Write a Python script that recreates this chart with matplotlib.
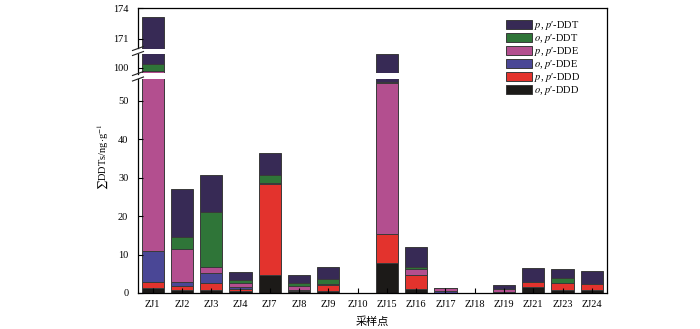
import numpy as np
import matplotlib.pyplot as plt
from matplotlib.lines import Line2D
from matplotlib.patches import Patch

plt.rcParams['font.family'] = ['Liberation Serif', 'Noto Sans CJK SC']
plt.rcParams['mathtext.fontset'] = 'stix'

sites = ["ZJ1", "ZJ2", "ZJ3", "ZJ4", "ZJ7", "ZJ8", "ZJ9", "ZJ10",
         "ZJ15", "ZJ16", "ZJ17", "ZJ18", "ZJ19", "ZJ21", "ZJ23", "ZJ24"]

# ng/g for each compound, bottom to top of the stack
op_ddd = [1.4, 0.8, 0.9, 0.5, 4.7, 0.5, 0.6, 0, 7.7, 1.0, 0, 0, 0, 1.6, 0.8, 0.8]
pp_ddd = [1.5, 1.0, 1.6, 0.5, 23.5, 0.1, 1.5, 0, 7.5, 3.6, 0.05, 0, 0.05, 1.3, 1.7, 1.5]
op_dde = [7.9, 1.1, 2.6, 0.5, 0.1, 0.2, 0.1, 0, 0.1, 0.1, 0.45, 0, 0.3, 0, 0, 0]
pp_dde = [88.96, 8.5, 1.6, 1.2, 0.2, 1.0, 0.1, 0, 39.3, 1.5, 0.7, 0, 0.65, 0, 0, 0]
op_ddt = [0.6, 3.1, 14.3, 0.7, 2.1, 0.8, 1.3, 0, 0.3, 0.5, 0, 0, 0.05, 0, 1.5, 0]
pp_ddt = [72.81, 12.5, 9.6, 2.0, 5.8, 2.0, 3.1, 0, 46.35, 5.3, 0.05, 0, 1.05, 3.5, 2.2, 3.3]

series = [
    (op_ddd, "#1c1a18", "$o$, $p$′-DDD"),
    (pp_ddd, "#e3332d", "$p$, $p$′-DDD"),
    (op_dde, "#4a4796", "$o$, $p$′-DDE"),
    (pp_dde, "#b34f8f", "$p$, $p$′-DDE"),
    (op_ddt, "#2f7538", "$o$, $p$′-DDT"),
    (pp_ddt, "#372a55", "$p$, $p$′-DDT"),
]

W, H = 700, 329
fig = plt.figure(figsize=(W / 100, H / 100), dpi=100)


def fx(px):
    return px / W


def fy(py):
    return 1 - py / H


def panel(y_top, y_bot):
    return fig.add_axes([fx(138), fy(y_bot), fx(607) - fx(138), (y_bot - y_top) / H])


# continuous right border
ax_bg = panel(8.3, 293)
ax_bg.set_xticks([])
ax_bg.set_yticks([])
ax_bg.patch.set_visible(False)
for s in ["left", "top", "bottom"]:
    ax_bg.spines[s].set_visible(False)
ax_bg.spines["right"].set_linewidth(0.9)

ax_top = panel(8.3, 48.5)
ax_mid = panel(53.5, 73.5)
ax_low = panel(79, 293)

x = np.arange(len(sites))
for ax in (ax_top, ax_mid, ax_low):
    bottom = np.zeros(len(sites))
    for vals, col, lab in series:
        ax.bar(x, vals, 0.76, bottom=bottom, color=col, edgecolor="#3a3a3a",
               linewidth=0.7, label=lab)
        bottom += np.array(vals)
    ax.set_xlim(-0.5, 15.52)
    ax.patch.set_visible(False)
    ax.spines["right"].set_visible(False)
    ax.tick_params(axis="y", direction="in", length=3.5, width=0.8,
                   labelsize=7.5, pad=7, right=False)
    ax.spines["left"].set_linewidth(0.9)

ax_top.set_ylim(170.03, 174)
ax_top.set_yticks([171, 174])
ax_top.spines["bottom"].set_visible(False)
ax_top.spines["top"].set_linewidth(0.9)
ax_top.set_xticks([])

ax_mid.set_ylim(99.5, 101.3)
ax_mid.set_yticks([100])
ax_mid.spines["bottom"].set_visible(False)
ax_mid.spines["top"].set_visible(False)
ax_mid.set_xticks([])

ax_low.set_ylim(0, 55.6)
ax_low.set_yticks([0, 10, 20, 30, 40, 50])
ax_low.spines["top"].set_visible(False)
ax_low.spines["bottom"].set_linewidth(0.9)
ax_low.set_xticks(x)
ax_low.set_xticklabels(sites)
ax_low.tick_params(axis="x", direction="in", length=3.5, width=0.8,
                   labelsize=7.5, pad=5)
ax_low.set_xlabel("采样点", fontsize=8, labelpad=5)

fig.text(fx(103), fy(157), r"$\sum$DDTs/ng$\cdot$g$^{-1}$", rotation=90,
         ha="center", va="center", fontsize=7.5)

# axis break marks
for yb in [48.5, 53.5, 73.5, 79]:
    fig.add_artist(Line2D([fx(132.5), fx(143.5)], [fy(yb + 2), fy(yb - 2)],
                          transform=fig.transFigure, color="#222222", lw=0.8))

handles = [Patch(facecolor=col, edgecolor="#3a3a3a", linewidth=0.7)
           for _, col, _ in series][::-1]
labels = [lab for _, _, lab in series][::-1]
fig.legend(handles, labels, loc="upper left", bbox_to_anchor=(fx(502), fy(15)),
           frameon=False, fontsize=7.5, handlelength=2.5, handleheight=0.95,
           handletextpad=0.2, labelspacing=0.0, borderaxespad=0)

fig.savefig("out.png", dpi=100)
